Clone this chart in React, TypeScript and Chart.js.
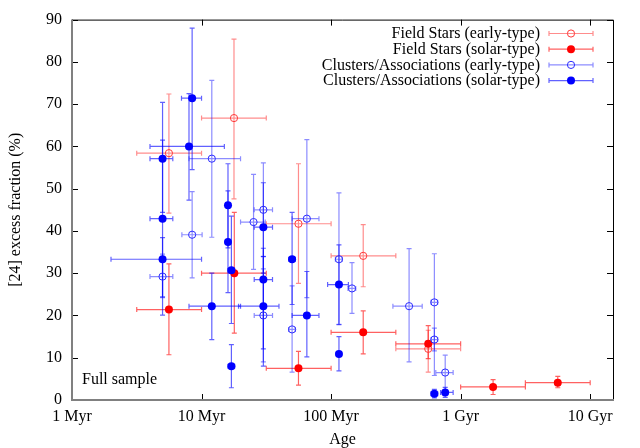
import { useEffect, useRef } from "react";
import { Chart, registerables } from "chart.js";
Chart.register(...registerables);

const FONT = '"Liberation Serif", "Times New Roman", serif';
const FS = 16;

// Axis ticks
const X_TICKS = [1, 10, 100, 1000, 10000];
const X_TICK_LABELS = ["1 Myr", "10 Myr", "100 Myr", "1 Gyr", "10 Gyr"];
const X_MIN = 1;
const X_MAX = 15000;
const Y_MIN = 0;
const Y_MAX = 90;
const Y_STEP = 10;

const SERIES_LABELS = [
  "Field Stars (early-type)",
  "Field Stars (solar-type)",
  "Clusters/Associations (early-type)",
  "Clusters/Associations (solar-type)",
];

// Field Stars (early-type)
const feAge = [5.6, 17.8, 56, 177, 562];
const feAgeLo = [3.16, 10, 31.6, 100, 316];
const feAgeHi = [10, 31.6, 100, 316, 1000];
const feFrac = [58.4, 66.7, 41.7, 34.1, 12.1];
const feFracLo = [44.2, 47.6, 27.6, 26.8, 6.6];
const feFracHi = [72.4, 85.4, 55.9, 41.5, 16.5];

// Field Stars (solar-type)
const fsAge = [5.6, 17.9, 56, 177, 562, 1780, 5620];
const fsAgeLo = [3.16, 10, 31.6, 100, 316, 1000, 3160];
const fsAgeHi = [10, 31.6, 100, 316, 1000, 3160, 10000];
const fsFrac = [21.4, 30.0, 7.5, 16.0, 13.3, 3.1, 4.1];
const fsFracLo = [10.7, 15.8, 3.5, 10.9, 9.8, 1.3, 2.9];
const fsFracHi = [32.2, 44.4, 11.5, 21.1, 17.6, 4.8, 5.6];

// Clusters/Associations (early-type)
const ceAge = [5.0, 8.46, 12, 25.2, 30, 30, 50, 65, 115, 145, 400, 627, 627, 760];
const ceAgeLo = [4, 7.05, 8, 20, 25.5, 25.5, 47, 50, 108, 135, 300, 590, 590, 643];
const ceAgeHi = [6, 10.1, 20, 31, 35.3, 35.3, 53, 80.6, 122, 155, 505, 665, 665, 875];
const ceFrac = [29.2, 39.1, 57.1, 42.1, 45.0, 20.0, 16.7, 42.9, 33.3, 26.4, 22.2, 23.1, 14.3, 6.5];
const ceFracLo = [24.2, 28.9, 38.5, 30.9, 34.0, 9.0, 6.6, 24.2, 17.9, 20.5, 9.0, 5.8, 11.6, 2.0];
const ceFracHi = [34.5, 49.3, 75.6, 53.4, 56.1, 31.0, 27.0, 61.6, 49.0, 32.5, 35.8, 34.6, 17.0, 10.6];

// Clusters/Associations (solar-type)
const csAge = [5.0, 5.0, 5.0, 8.0, 8.46, 12, 16, 16, 17, 17, 30, 30, 30, 50, 65, 115, 115, 627, 760];
const csAgeLo = [4, 4, 2, 4, 7, 8, 15.5, 15.5, 16, 16, 25.5, 25.5, 19.3, 47, 50, 94, 110, 590, 700];
const csAgeHi = [6, 6, 10, 15, 10, 20, 16.5, 16.5, 18, 18, 35.3, 35.3, 39.6, 53, 80.6, 136, 120, 665, 875];
const csFrac = [57.1, 42.9, 33.3, 60.0, 71.4, 22.2, 46.1, 37.4, 30.7, 8.0, 40.9, 28.5, 22.2, 33.3, 20.0, 27.3, 10.9, 1.5, 1.8];
const csFracLo = [44.4, 24.4, 20.1, 47.3, 54.5, 14.3, 36.0, 25.4, 18.1, 2.9, 30.0, 12.1, 8.0, 22.6, 10.2, 17.8, 6.9, 0.5, 0.6];
const csFracHi = [70.4, 61.5, 38.4, 72.5, 88.0, 30.0, 55.9, 49.5, 43.5, 13.1, 51.4, 35.9, 33.9, 44.4, 30.4, 36.7, 15.0, 2.5, 3.0];

const ANNOTATION = "Full sample";
const X_TITLE = "Age";
const Y_TITLE = "[24] excess fraction (%)";

type Series = {
  label: string;
  age: number[];
  ageLo: number[];
  ageHi: number[];
  frac: number[];
  fracLo: number[];
  fracHi: number[];
  marker: string;
  bar: string;
  filled: boolean;
  order: number;
};

export default function App() {
  const ref = useRef<HTMLCanvasElement>(null);

  useEffect(() => {
    document.body.style.margin = "0";
    const series: Series[] = [
      { label: SERIES_LABELS[0], age: feAge, ageLo: feAgeLo, ageHi: feAgeHi, frac: feFrac, fracLo: feFracLo, fracHi: feFracHi, marker: "#ff3a3a", bar: "rgba(255,0,0,0.45)", filled: false, order: 3 },
      { label: SERIES_LABELS[1], age: fsAge, ageLo: fsAgeLo, ageHi: fsAgeHi, frac: fsFrac, fracLo: fsFracLo, fracHi: fsFracHi, marker: "#ff0000", bar: "rgba(255,0,0,0.62)", filled: true, order: 2 },
      { label: SERIES_LABELS[2], age: ceAge, ageLo: ceAgeLo, ageHi: ceAgeHi, frac: ceFrac, fracLo: ceFracLo, fracHi: ceFracHi, marker: "#2a2aff", bar: "rgba(0,0,255,0.45)", filled: false, order: 1 },
      { label: SERIES_LABELS[3], age: csAge, ageLo: csAgeLo, ageHi: csAgeHi, frac: csFrac, fracLo: csFracLo, fracHi: csFracHi, marker: "#0000ff", bar: "rgba(0,0,255,0.62)", filled: true, order: 0 },
    ];

    const CAP = 2.5;

    const errorBars = {
      id: "errorBars",
      beforeDatasetsDraw(chart: any) {
        const { ctx, scales } = chart;
        const xs = scales.x;
        const ys = scales.y;
        ctx.save();
        ctx.lineWidth = 1.2;
        const drawOrder = [...series].sort((a, b) => b.order - a.order);
        for (const s of drawOrder) {
          ctx.strokeStyle = s.bar;
          for (let i = 0; i < s.age.length; i++) {
            const px = xs.getPixelForValue(s.age[i]);
            const py = ys.getPixelForValue(s.frac[i]);
            const x0 = xs.getPixelForValue(s.ageLo[i]);
            const x1 = xs.getPixelForValue(s.ageHi[i]);
            const y0 = ys.getPixelForValue(s.fracLo[i]);
            const y1 = ys.getPixelForValue(s.fracHi[i]);
            ctx.beginPath();
            ctx.moveTo(px, y0);
            ctx.lineTo(px, y1);
            ctx.moveTo(px - CAP, y0);
            ctx.lineTo(px + CAP, y0);
            ctx.moveTo(px - CAP, y1);
            ctx.lineTo(px + CAP, y1);
            if (Math.abs(x1 - x0) > 1) {
              ctx.moveTo(x0, py);
              ctx.lineTo(x1, py);
              ctx.moveTo(x0, py - CAP);
              ctx.lineTo(x0, py + CAP);
              ctx.moveTo(x1, py - CAP);
              ctx.lineTo(x1, py + CAP);
            }
            ctx.stroke();
          }
        }
        ctx.restore();
      },
    };

    const frame = {
      id: "frame",
      afterDraw(chart: any) {
        const { ctx, chartArea, scales } = chart;
        const { left, right, top, bottom } = chartArea;
        ctx.save();
        ctx.strokeStyle = "#000";
        ctx.lineWidth = 1;
        const TL = 6;
        ctx.beginPath();
        for (const t of scales.x.ticks) {
          const x = Math.round(scales.x.getPixelForValue(t.value)) + 0.5;
          ctx.moveTo(x, bottom);
          ctx.lineTo(x, bottom - TL);
          ctx.moveTo(x, top);
          ctx.lineTo(x, top + TL);
        }
        for (const t of scales.y.ticks) {
          const y = Math.round(scales.y.getPixelForValue(t.value)) + 0.5;
          ctx.moveTo(left, y);
          ctx.lineTo(left + TL, y);
          ctx.moveTo(right, y);
          ctx.lineTo(right - TL, y);
        }
        ctx.stroke();
        ctx.beginPath();
        ctx.moveTo(left, top + 0.5);
        ctx.lineTo(right + 0.5, top + 0.5);
        ctx.lineTo(right + 0.5, bottom);
        ctx.stroke();
        ctx.strokeStyle = "#808080";
        ctx.lineWidth = 2;
        ctx.beginPath();
        ctx.moveTo(left, top);
        ctx.lineTo(left, bottom);
        ctx.lineTo(right + 1, bottom);
        ctx.stroke();

        ctx.fillStyle = "#000";
        ctx.font = `${FS}px ${FONT}`;
        ctx.textAlign = "left";
        ctx.textBaseline = "alphabetic";
        ctx.fillText(ANNOTATION, left + 10, bottom - 16);

        const textRight = 540;
        const lineX0 = 549;
        const lineX1 = 593;
        const rowY0 = 33.5;
        const rowH = 15.7;
        ctx.textAlign = "right";
        ctx.textBaseline = "middle";
        series.forEach((s, i) => {
          const y = rowY0 + i * rowH;
          ctx.fillStyle = "#000";
          ctx.fillText(s.label, textRight, y + 0.5);
          ctx.strokeStyle = s.bar;
          ctx.lineWidth = 1.2;
          ctx.beginPath();
          ctx.moveTo(lineX0, y);
          ctx.lineTo(lineX1, y);
          ctx.moveTo(lineX0, y - CAP);
          ctx.lineTo(lineX0, y + CAP);
          ctx.moveTo(lineX1, y - CAP);
          ctx.lineTo(lineX1, y + CAP);
          ctx.stroke();
          const mx = (lineX0 + lineX1) / 2;
          ctx.beginPath();
          if (s.filled) {
            ctx.arc(mx, y, 4, 0, Math.PI * 2);
            ctx.fillStyle = s.marker;
            ctx.fill();
          } else {
            ctx.arc(mx, y, 3.6, 0, Math.PI * 2);
            ctx.strokeStyle = s.marker;
            ctx.lineWidth = 1;
            ctx.stroke();
          }
        });
        ctx.restore();
      },
    };

    const datasets = series.map((s) => ({
      label: s.label,
      data: s.age.map((a, i) => ({ x: a, y: s.frac[i] })),
      order: s.order,
      pointStyle: "circle",
      pointRadius: s.filled ? 4 : 3.6,
      pointBorderWidth: s.filled ? 0 : 1,
      pointBackgroundColor: s.filled ? s.marker : "rgba(0,0,0,0)",
      pointBorderColor: s.marker,
      showLine: false,
    }));

    const chart = new Chart(ref.current as HTMLCanvasElement, {
      type: "scatter",
      data: { datasets } as any,
      options: {
        responsive: false,
        animation: false,
        layout: { padding: { left: 0, right: 27, top: 19, bottom: 0 } },
        plugins: {
          legend: { display: false },
          tooltip: { enabled: false },
          title: { display: false },
        },
        scales: {
          x: {
            type: "logarithmic",
            min: X_MIN,
            max: X_MAX,
            afterBuildTicks: (scale: any) => {
              scale.ticks = X_TICKS.map((v) => ({ value: v }));
            },
            afterFit: (scale: any) => {
              scale.height = 48;
            },
            grid: { display: false, drawTicks: false },
            border: { display: false },
            ticks: {
              autoSkip: false,
              maxRotation: 0,
              padding: 7,
              color: "#000",
              font: { family: FONT, size: FS },
              callback: (_v: any, i: number) => X_TICK_LABELS[i],
            },
            title: {
              display: true,
              text: X_TITLE,
              color: "#000",
              font: { family: FONT, size: FS, lineHeight: 1 },
              padding: { top: 0, bottom: 0 },
            },
          },
          y: {
            type: "linear",
            min: Y_MIN,
            max: Y_MAX,
            afterFit: (scale: any) => {
              scale.width = 72;
            },
            grid: { display: false, drawTicks: false },
            border: { display: false },
            ticks: {
              stepSize: Y_STEP,
              padding: 10,
              color: "#000",
              font: { family: FONT, size: FS },
            },
            title: {
              display: true,
              text: Y_TITLE,
              color: "#000",
              font: { family: FONT, size: FS, lineHeight: 1 },
              padding: { top: 8, bottom: 0 },
            },
          },
        },
      } as any,
      plugins: [errorBars, frame],
    });
    return () => chart.destroy();
  }, []);

  return (
    <div style={{ width: 640, height: 448 }}>
      <canvas ref={ref} width={640} height={448} style={{ display: "block" }} />
    </div>
  );
}
